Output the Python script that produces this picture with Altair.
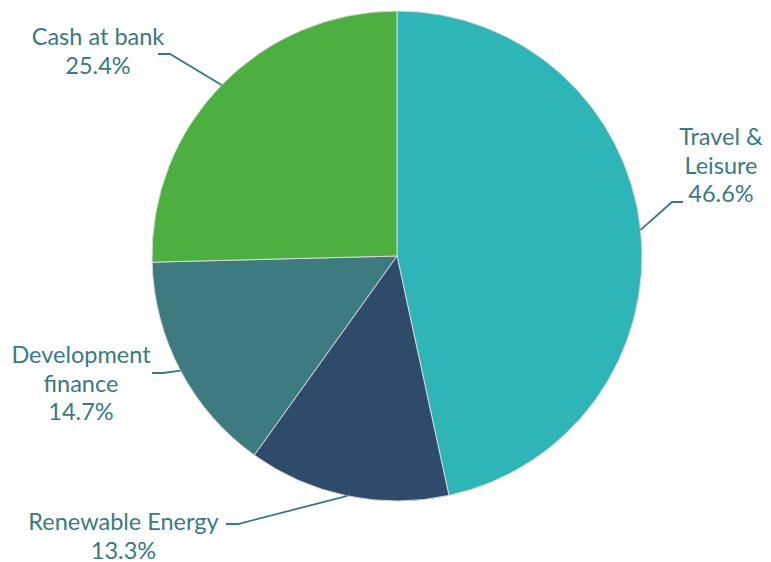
import altair as alt
import pandas as pd
import numpy as np

# ---- data ----
categories = ["Travel & Leisure", "Renewable Energy", "Development finance", "Cash at bank"]
shares = [46.6, 13.3, 14.7, 25.4]
label_lines = [["Travel &", "Leisure", "46.6%"],
               ["Renewable Energy", "13.3%"],
               ["Development", "finance", "14.7%"],
               ["Cash at bank", "25.4%"]]

# ---- styling / layout ----
colors = ["#2DB5B8", "#2E4B6B", "#3E7B80", "#4CAF3F"]
text_color = "#3A7A80"
W, H = 755, 552
CX, CY, R = 389, 248, 245
label_anchor = [(713, 137), (115.5, 522), (73, 355), (90, 37)]   # text centre x, first baseline y
elbows = [(664, 194), (230, 516), (155, 365), (162, 46)]
ends = [(675, 194), (218, 516), (144, 365), (150, 46)]

# ---- tables ----
pie = pd.DataFrame({"cat": categories, "share": shares, "idx": range(len(shares)),
                    "cx": CX, "cy": CY})

frac = np.array(shares) / sum(shares)
mid = (np.cumsum(frac) - frac / 2) * 2 * np.pi
rows = []
for i, c in enumerate(categories):
    sx, sy = CX + R * np.sin(mid[i]), CY - R * np.cos(mid[i])
    for k, (px, py) in enumerate([(sx, sy), elbows[i], ends[i]]):
        rows.append({"cat": c, "k": k, "x": px, "y": py})
lines = pd.DataFrame(rows)

labels = pd.DataFrame({"cat": categories,
                       "x": [a[0] for a in label_anchor],
                       "y": [a[1] for a in label_anchor],
                       "txt": label_lines})

xs = alt.Scale(domain=[0, W], nice=False, zero=False)
ys = alt.Scale(domain=[0, H], nice=False, zero=False, reverse=True)

arcs = alt.Chart(pie).mark_arc(outerRadius=R, stroke="#D8D8D8", strokeWidth=1).encode(
    theta=alt.Theta("share:Q", stack=True),
    order=alt.Order("idx:Q"),
    color=alt.Color("cat:N", scale=alt.Scale(domain=categories, range=colors), legend=None),
    x=alt.X("cx:Q", scale=xs, axis=None),
    y=alt.Y("cy:Q", scale=ys, axis=None),
)

leaders = alt.Chart(lines).mark_line(color=text_color, strokeWidth=1.8).encode(
    x=alt.X("x:Q", scale=xs, axis=None),
    y=alt.Y("y:Q", scale=ys, axis=None),
    detail="cat:N",
    order="k:Q",
)

texts = alt.Chart(labels).mark_text(font="Lato", fontSize=23.5, color=text_color,
                                    align="center", baseline="alphabetic",
                                    lineHeight=28.5).encode(
    x=alt.X("x:Q", scale=xs, axis=None),
    y=alt.Y("y:Q", scale=ys, axis=None),
    text="txt",
)

chart = alt.layer(arcs, leaders, texts).properties(
    width=W, height=H, padding=0, autosize=alt.AutoSizeParams(type="none")
).configure_view(stroke=None)

chart.save("out.html", embed_options={"renderer": "svg", "actions": False})
